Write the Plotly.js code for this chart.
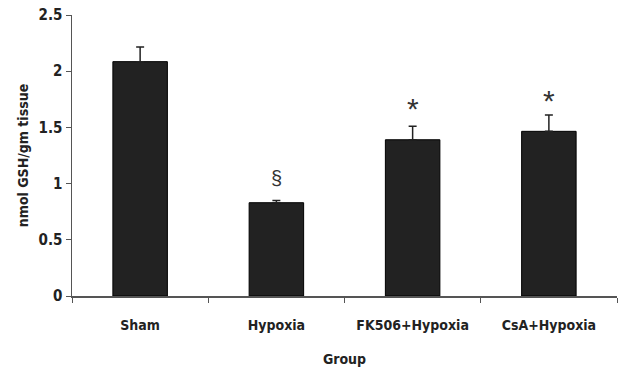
<!DOCTYPE html>
<html><head><meta charset="utf-8">
<script src="https://cdn.plot.ly/plotly-3.0.1.min.js"></script>
<style>body{margin:0;background:#fff}#c{width:619px;height:373px}</style>
</head><body><div id="c"></div>
<script>
const groups = ["Sham", "Hypoxia", "FK506+Hypoxia", "CsA+Hypoxia"];
const values = [2.085, 0.83, 1.39, 1.465];
const errors = [0.13, 0.02, 0.12, 0.145];
const marks = ["", "§", "*", "*"];
const markY = [null, 1.05, 1.67, 1.74];
const yTicks = [0, 0.5, 1, 1.5, 2, 2.5];
const yTickText = ["0", "0.5", "1", "1.5", "2", "2.5"];

const font = "'DejaVu Sans Condensed', 'Liberation Sans Narrow', 'Open Sans', sans-serif";
const ann = [];
groups.forEach((g, i) => {
  if (marks[i]) ann.push({x: g, y: markY[i], text: marks[i], showarrow: false,
    font: {family: "'Liberation Sans', Arial, sans-serif", size: marks[i] === "*" ? 30 : 20, color: "#333"},
    yanchor: "middle"});
});

Plotly.newPlot("c", [{
  type: "bar", x: groups, y: values, width: 0.4,
  marker: {color: "#222222", line: {color: "#000", width: 1}},
  error_y: {type: "data", symmetric: false, array: errors, arrayminus: errors.map(() => 0),
    color: "#222", thickness: 1.5, width: 4}
}], {
  width: 619, height: 373,
  margin: {l: 72, r: 2, t: 15, b: 77},
  paper_bgcolor: "#fff", plot_bgcolor: "#fff",
  showlegend: false, bargap: 0.6,
  font: {family: font, color: "#222"},
  xaxis: {type: "category", showline: true, linecolor: "#555", linewidth: 1.5,
    ticks: "outside", tickson: "boundaries", ticklen: 5, tickcolor: "#555",
    ticklabelstandoff: 16,
    tickfont: {size: 14, family: font, weight: "bold"},
    title: {text: "<b>Group</b>", font: {size: 14, family: font}, standoff: 22}},
  yaxis: {range: [0, 2.5], tickvals: yTicks, ticktext: yTickText, showgrid: false, zeroline: false,
    showline: true, linecolor: "#555", linewidth: 1.5, ticks: "outside", ticklen: 5, tickcolor: "#555",
    tickfont: {size: 15, family: font, weight: "bold"},
    title: {text: "<b>nmol GSH/gm tissue</b>", font: {size: 14, family: font}, standoff: 6}},
  annotations: ann
}, {staticPlot: true});
</script></body></html>
